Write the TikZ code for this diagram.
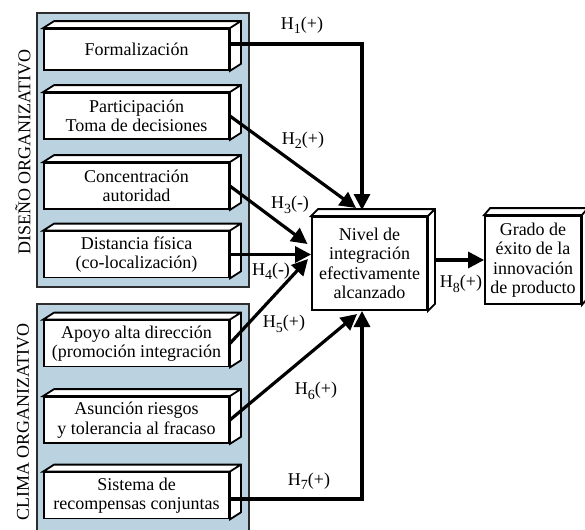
\documentclass[tikz,border=0pt]{standalone}
\usepackage{fontspec}
\setmainfont{Liberation Serif}
\usetikzlibrary{arrows.meta,calc}
\definecolor{panelblue}{RGB}{187,211,225}
\definecolor{panelgray}{RGB}{45,45,45}
\newcommand{\hyp}[2]{H\raisebox{-2.2pt}{\fontsize{7}{7}\selectfont #1}(#2)}
\tikzset{
	caja/.style={shape=rectangle, draw, fill=white, line width=0.9pt, align=center, inner sep=0pt, font=\fontsize{9}{9.75}\selectfont},
	cara/.style={draw, fill=white, line width=0.9pt},
	etiqueta/.style={inner sep=0pt, font=\fontsize{9}{9.75}\selectfont},
	flecha/.style={-{Triangle[length=8pt,width=8pt]}, line width=1.6pt},
	panel/.style={draw=panelgray, fill=panelblue, line width=0.8pt}
}
\begin{document}
\begin{tikzpicture}[x=0.5pt, y=-0.5pt]
	% Paths, nodes and wires:
	\useasboundingbox (0,0) rectangle (585,530);
	\draw[panel] (37,13) rectangle (249,287);
	\draw[panel] (37,304) rectangle (249,534);
	\node[etiqueta, rotate=90] (disenio) at (23,152) {DISEÑO ORGANIZATIVO};
	\node[etiqueta, rotate=90] (clima) at (23,422) {CLIMA ORGANIZATIVO};
	\node[caja, minimum width=92.5pt, minimum height=20.5pt] (form) at (136.5,49.5) {Formalización};
	\node[caja, minimum width=92.5pt, minimum height=23pt] (part) at (136.5,116) {Participación\\Toma de decisiones};
	\node[caja, minimum width=92.5pt, minimum height=23pt] (conc) at (136.5,186) {Concentración\\autoridad};
	\node[caja, minimum width=92.5pt, minimum height=23pt] (dist) at (136.5,254.5) {Distancia física\\(co-localización)};
	\node[caja, minimum width=92.5pt, minimum height=23pt] (apoyo) at (136.5,343.5) {Apoyo alta dirección\\(promoción integración};
	\node[caja, minimum width=92.5pt, minimum height=23pt] (riesgo) at (136.5,420) {Asunción riesgos\\y tolerancia al fracaso};
	\node[caja, minimum width=92.5pt, minimum height=23pt] (recomp) at (136.5,495.5) {Sistema de\\recompensas conjuntas};
	\node[caja, minimum width=57.5pt, minimum height=46.5pt] (nivel) at (369.5,263.5) {Nivel de\\integración\\efectivamente\\alcanzado};
	\node[caja, minimum width=48pt, minimum height=44pt] (grado) at (533,260) {Grado de\\éxito de la\\innovación\\de producto};
	\foreach \n/\p in {form/11, part/11, conc/11, dist/11, apoyo/11, riesgo/11, recomp/11, nivel/7, grado/6}
		\draw[cara] (\n.north west) -- ++(\p,-7) -- ($(\n.north east)+(\p,-7)$) -- ($(\n.south east)+(\p,-7)$) -- (\n.south east) -- (\n.north east) -- cycle (\n.north east) -- ++(\p,-7);
	\draw[flecha] ([yshift=2.75pt]form.east) -| ($(nivel.center)+(-7.5,-53.5)$);
	\draw[flecha] (part.east) -- ($(nivel.center)+(-13.5,-55.5)$);
	\draw[flecha] (conc.east) -- ($(nivel.center)+(-62,-19.5)$);
	\draw[flecha] (dist.east) -- (dist.east -| nivel.west);
	\draw[flecha] (apoyo.east) -- ($(nivel.center)+(-61.5,-4.5)$);
	\draw[flecha] (riesgo.east) -- ($(nivel.center)+(-12.5,50.5)$);
	\draw[flecha] ([yshift=-1.75pt]recomp.east) -| ($(nivel.center)+(-7.5,47.5)$);
	\draw[flecha] ($(nivel.east |- grado.west)+(7,0)$) -- (grado.west);
	\node[etiqueta] (h1) at (302,25) {\hyp{1}{+}};
	\node[etiqueta] (h2) at (303,140) {\hyp{2}{+}};
	\node[etiqueta] (h3) at (290,205) {\hyp{3}{-}};
	\node[etiqueta] (h4) at (271,271) {\hyp{4}{-}};
	\node[etiqueta] (h5) at (284,324) {\hyp{5}{+}};
	\node[etiqueta] (h6) at (316,391) {\hyp{6}{+}};
	\node[etiqueta] (h7) at (309,481) {\hyp{7}{+}};
	\node[etiqueta] (h8) at (461,284) {\hyp{8}{+}};
\end{tikzpicture}
\end{document}
